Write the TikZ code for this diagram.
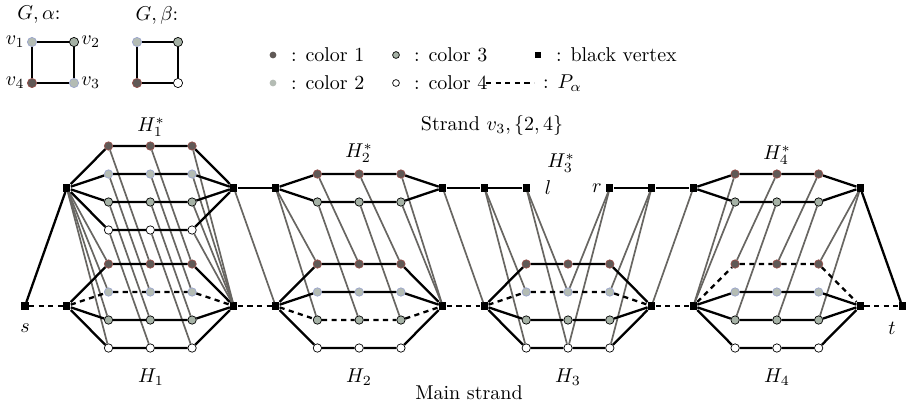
\documentclass[tikz,border=0pt]{standalone}
\usepackage{amsmath,amssymb}
\usepackage{tikz}
\usetikzlibrary{positioning}
\definecolor{colone}{RGB}{96,89,86}
\definecolor{coloneline}{RGB}{150,80,75}
\definecolor{coltwo}{RGB}{180,188,180}
\definecolor{coltwoline}{RGB}{155,165,205}
\definecolor{colthree}{RGB}{166,178,166}
\definecolor{linkgray}{RGB}{104,102,98}
\tikzset{
  bv/.style={rectangle,fill=black,minimum size=3.6pt,inner sep=0pt},
  cv/.style={circle,minimum size=4.2pt,inner sep=0pt,line width=0.35pt},
  c1/.style={cv,fill=colone,draw=coloneline},
  c2/.style={cv,fill=coltwo,draw=coltwoline},
  c3/.style={cv,fill=colthree,draw=black},
  c4/.style={cv,fill=white,draw=black},
  ed/.style={line width=1.15pt},
  pa/.style={line width=1.15pt,dash pattern=on 2.6pt off 2.2pt},
  link/.style={line width=0.85pt,linkgray},
}

\begin{document}
\begin{tikzpicture}[x=0.5pt,y=-0.5pt]
 \useasboundingbox (0,0) rectangle (909,404);
 % G with alpha and beta
 \node (galpha) at (39,15) {$G,\alpha$:};
 \node (gbeta) at (157,15) {$G,\beta$:};
 \node[c2,minimum size=4.6pt,label={[inner sep=1pt]left:$v_1$}] (a1) at (32,42) {};
 \node[c3,minimum size=4.6pt,label={[inner sep=1pt]right:$v_2$}] (a2) at (74,42) {};
 \node[c2,minimum size=4.6pt,label={[inner sep=1pt]right:$v_3$}] (a3) at (74,83) {};
 \node[c1,minimum size=4.6pt,label={[inner sep=1pt]left:$v_4$}] (a4) at (32,83) {};
 \draw[ed] (a1) -- (a2) -- (a3) -- (a4) -- (a1);
 \node[c2,minimum size=4.6pt] (b1) at (137,42) {};
 \node[c3,minimum size=4.6pt] (b2) at (178,42) {};
 \node[c4,minimum size=4.6pt] (b3) at (178,83) {};
 \node[c1,minimum size=4.6pt] (b4) at (137,83) {};
 \draw[ed] (b1) -- (b2) -- (b3) -- (b4) -- (b1);
 % legend
 \node[c1,draw=none,minimum size=3.4pt] (k1) at (273,55) {};
 \node[anchor=west] at (284,55) {: color 1};
 \node[c2,draw=none,minimum size=3.4pt] (k2) at (273,83) {};
 \node[anchor=west] at (284,83) {: color 2};
 \node[c3,minimum size=3.4pt] (k3) at (396,55) {};
 \node[anchor=west] at (407,55) {: color 3};
 \node[c4,minimum size=3.4pt] (k4) at (396,83) {};
 \node[anchor=west] at (407,83) {: color 4};
 \node[bv,minimum size=3.2pt] (kb) at (538,55) {};
 \node[anchor=west] at (549,55) {: black vertex};
 \coordinate (kpa) at (486,83);
 \coordinate (kpb) at (534,83);
 \draw[pa] (kpa) -- (kpb);
 \node[anchor=west] at (536,83) {: $P_\alpha$};

 % main strand
 \node[bv] (s) at (25,306) {};
 \node[bv] (t) at ({25+41.77*21},306) {};
 \foreach \k in {1,5,6,10,11,15,16,20}
  \node[bv] (m\k) at ({25+41.77*\k},306) {};
 \foreach \L in {1,6,11,16}{
  \foreach \j in {1,2,3}{
   \pgfmathtruncatemacro\k{\L+\j}
   \foreach \c/\y in {1/264,2/292,3/320,4/348}
    \node[c\c] (m\k-\c) at ({25+41.77*\k},\y) {};
  }
 }
 % strand v_3
 \foreach \k in {1,5,6,10,11,15,16,20}
  \node[bv] (u\k) at ({25+41.77*\k},188) {};
 \node[bv] (l) at ({25+41.77*12},188) {};
 \node[bv] (r) at ({25+41.77*14},188) {};
 \foreach \k in {2,3,4}
  \foreach \c/\y in {1/146,2/174,3/202,4/230}
   \node[c\c] (u\k-\c) at ({25+41.77*\k},\y) {};
 \foreach \k in {7,8,9,17,18,19}
  \foreach \c/\y in {1/174,3/202}
   \node[c\c] (u\k-\c) at ({25+41.77*\k},\y) {};

 % links between the strands
 \foreach \c in {1,2,3,4}{
  \draw[link] (u1) -- (m2-\c);
  \draw[link] (u2-\c) -- (m3-\c);
  \draw[link] (u3-\c) -- (m4-\c);
  \draw[link] (u4-\c) -- (m5);
 }
 \draw[link] (u5) -- (m6);
 \foreach \c in {1,3}{
  \draw[link] (u6) -- (m7-\c);
  \draw[link] (u7-\c) -- (m8-\c);
  \draw[link] (u8-\c) -- (m9-\c);
  \draw[link] (u9-\c) -- (m10);
 }
 \draw[link] (u10) -- (m11);
 \foreach \c in {2,4}{
  \draw[link] (u11) -- (m12-\c);
  \draw[link] (l) -- (m13-\c);
  \draw[link] (r) -- (m13-\c);
  \draw[link] (u15) -- (m14-\c);
 }
 \draw[link] (u16) -- (m15);
 \foreach \c in {1,3}{
  \draw[link] (u17-\c) -- (m16);
  \draw[link] (u18-\c) -- (m17-\c);
  \draw[link] (u19-\c) -- (m18-\c);
  \draw[link] (u20) -- (m19-\c);
 }

 % gadgets H_i, dashed row is alpha(v_i)
 \foreach \L/\a in {1/2,6/3,11/2,16/1}{
  \pgfmathtruncatemacro\ka{\L+1}
  \pgfmathtruncatemacro\kb{\L+2}
  \pgfmathtruncatemacro\kc{\L+3}
  \pgfmathtruncatemacro\kd{\L+4}
  \foreach \c in {1,2,3,4}{
   \ifnum\c=\a\def\st{pa}\else\def\st{ed}\fi
   \draw[\st] (m\L) -- (m\ka-\c) -- (m\kb-\c) -- (m\kc-\c) -- (m\kd);
  }
 }
 \draw[pa] (s) -- (m1);
 \draw[pa] (m5) -- (m6);
 \draw[pa] (m10) -- (m11);
 \draw[pa] (m15) -- (m16);
 \draw[pa] (m20) -- (t);
 % gadgets H_i^*
 \foreach \c in {1,2,3,4}
  \draw[ed] (u1) -- (u2-\c) -- (u3-\c) -- (u4-\c) -- (u5);
 \foreach \c in {1,3}{
  \draw[ed] (u6) -- (u7-\c) -- (u8-\c) -- (u9-\c) -- (u10);
  \draw[ed] (u16) -- (u17-\c) -- (u18-\c) -- (u19-\c) -- (u20);
 }
 \draw[ed] (s) -- (u1);
 \draw[ed] (u5) -- (u6);
 \draw[ed] (u10) -- (u11) -- (l);
 \draw[ed] (r) -- (u15) -- (u16);
 \draw[ed] (u20) -- (t);

 % labels
 \node (ls) at (25,328) {$s$};
 \node (lt) at (892,328) {$t$};
 \node (ll) at (548,188) {$l$};
 \node (lr) at (597,188) {$r$};
 \node (strand) at (492,125) {Strand $v_3,\{2,4\}$};
 \node (mainlab) at (469,393) {Main strand};
 \node (h1s) at (151,127) {$H_1^*$};
 \node (h2s) at (359,153) {$H_2^*$};
 \node (h3s) at (561,163) {$H_3^*$};
 \node (h4s) at (777,155) {$H_4^*$};
 \node (h1) at (151,377) {$H_1$};
 \node (h2) at (359,377) {$H_2$};
 \node (h3) at (568,377) {$H_3$};
 \node (h4) at (777,377) {$H_4$};
\end{tikzpicture}
\end{document}
